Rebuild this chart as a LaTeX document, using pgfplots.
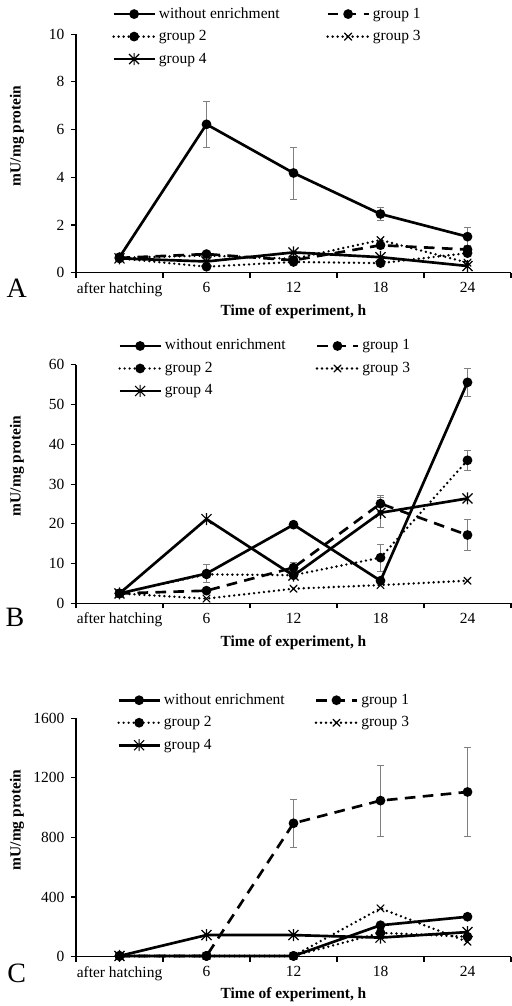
\documentclass[border=0pt]{standalone}
\usepackage{fontspec}
\setmainfont{Liberation Serif}
\usepackage{pgfplots}
\pgfplotsset{compat=1.18}
\newcommand\cf{\fontsize{11.6}{13}\selectfont}

\pgfdeclareplotmark{xstar}{%
  \pgfpathmoveto{\pgfqpoint{-\pgfplotmarksize}{-\pgfplotmarksize}}%
  \pgfpathlineto{\pgfqpoint{\pgfplotmarksize}{\pgfplotmarksize}}%
  \pgfpathmoveto{\pgfqpoint{-\pgfplotmarksize}{\pgfplotmarksize}}%
  \pgfpathlineto{\pgfqpoint{\pgfplotmarksize}{-\pgfplotmarksize}}%
  \pgfpathmoveto{\pgfqpoint{0pt}{-1.2\pgfplotmarksize}}%
  \pgfpathlineto{\pgfqpoint{0pt}{1.2\pgfplotmarksize}}%
  \pgfusepathqstroke}

\pgfplotsset{
  panel/.style={
    scale only axis, width=326.25pt, height=178.9pt,
    anchor=south west,
    xmin=-0.5, xmax=4.5, ymin=0,
    axis x line=bottom, axis y line=left,
    axis line style={-, line width=1pt, black},
    xtick={0,1,2,3,4}, xticklabels={after hatching,6,12,18,24},
    minor xtick={-0.5,0.5,1.5,2.5,3.5,4.5},
    major x tick style={draw=none},
    tick align=outside, major tick length=3.75pt, minor tick length=3.75pt,
    tick style={black, line width=0.9pt},
    every tick label/.append style={font=\cf},
    yticklabel style={xshift=-1.5pt},
    /pgf/number format/assume math mode=true,
    /pgf/number format/1000 sep={},
    scaled y ticks=false,
    clip=false,
    legend columns=2,
    legend cell align=left,
    legend style={draw=none, fill=none, anchor=north west, inner sep=0pt, font=\cf,
      nodes={inner sep=0pt, text height=8.5pt, text depth=2.5pt},
      row sep=5.875pt,
      /tikz/every odd column/.style={column sep=2.25pt}},
    legend image code/.code={\draw[mark repeat=2, mark phase=2] plot coordinates {(0pt,0pt) (15.375pt,0pt) (30.75pt,0pt)};},
    legend entries={without enrichment, group 1, group 2, group 3, group 4},
  },
  we/.style={black, line width=2pt, mark=*, mark size=2.6pt, mark options={solid}},
  g1/.style={black, line width=2pt, dash pattern=on 8pt off 5.5pt, mark=*, mark size=2.6pt, mark options={solid}},
  g2/.style={black, line width=2pt, line cap=round, dash pattern=on 0pt off 3.75pt, mark=*, mark size=2.6pt, mark options={solid}},
  g3/.style={black, line width=2pt, line cap=round, dash pattern=on 0pt off 3.75pt, mark=x, mark size=3.75pt, mark options={solid, line width=0.9pt}},
  g4/.style={black, line width=2pt, mark=xstar, mark size=3.75pt, mark options={solid, line width=0.9pt}},
  eb/.style={forget plot, only marks, mark=none,
    error bars/.cd, y dir=both, y explicit,
    error bar style={draw=gray, line width=0.6pt, solid},
    error mark options={draw=gray, line width=0.6pt, mark size=2.6pt, rotate=90, solid}},
}

\begin{document}
\begin{tikzpicture}
\useasboundingbox (0,0) rectangle (383.25pt,754.5pt);

% ---------------- Panel A ----------------
\begin{axis}[panel, at={(57pt,549.98pt)}, ymax=10, ytick={0,2,4,6,8,10},
  legend style={at={(axis description cs:0.0828,1.116)}, /tikz/every even column/.style={column sep=35pt}}]
\addplot[eb] coordinates {(1,6.22) +- (0,0.96) (2,4.18) +- (0,1.09) (3,2.46) +- (0,0.28) (4,1.51) +- (0,0.37)};
\addplot[we] coordinates {(0,0.65) (1,6.22) (2,4.18) (3,2.46) (4,1.51)};
\addplot[g1] coordinates {(0,0.62) (1,0.78) (2,0.52) (3,1.15) (4,0.97)};
\addplot[g2] coordinates {(0,0.60) (1,0.25) (2,0.45) (3,0.40) (4,0.82)};
\addplot[g3] coordinates {(0,0.62) (1,0.72) (2,0.58) (3,1.37) (4,0.42)};
\addplot[g4] coordinates {(0,0.60) (1,0.47) (2,0.85) (3,0.65) (4,0.28)};
\end{axis}

% ---------------- Panel B ----------------
\begin{axis}[panel, at={(57pt,301.95pt)}, ymax=60, ytick={0,10,20,30,40,50,60},
  legend style={at={(axis description cs:0.0966,1.111)}, /tikz/every even column/.style={column sep=22.5pt}}]
\addplot[eb] coordinates {(1,7.5) +- (0,2.3) (2,19.8) +- (0,0.5) (4,55.6) +- (0,3.6)};
\addplot[eb] coordinates {(2,9.0) +- (0,1.3) (3,25.1) +- (0,2.0) (4,17.2) +- (0,3.9)};
\addplot[eb] coordinates {(3,11.5) +- (0,3.4) (4,36.0) +- (0,2.6)};
\addplot[eb] coordinates {(3,22.8) +- (0,3.8)};
\addplot[we] coordinates {(0,2.5) (1,7.5) (2,19.8) (3,5.7) (4,55.6)};
\addplot[g1] coordinates {(0,2.5) (1,3.2) (2,9.0) (3,25.1) (4,17.2)};
\addplot[g2] coordinates {(0,2.5) (1,7.3) (2,7.1) (3,11.5) (4,36.0)};
\addplot[g3] coordinates {(0,2.5) (1,1.2) (2,3.7) (3,4.6) (4,5.7)};
\addplot[g4] coordinates {(0,2.5) (1,21.2) (2,7.0) (3,22.8) (4,26.4)};
\end{axis}

% ---------------- Panel C ----------------
\begin{axis}[panel, at={(57pt,36.98pt)}, ymax=1600, ytick={0,400,800,1200,1600},
  legend style={at={(axis description cs:0.0943,1.107)}, /tikz/every even column/.style={column sep=22.5pt}}]
\addplot[eb] coordinates {(2,895) +- (0,160) (3,1047) +- (0,237) (4,1105) +- (0,300)};
\addplot[we] coordinates {(0,5) (1,5) (2,5) (3,211) (4,268)};
\addplot[g1] coordinates {(0,5) (1,5) (2,895) (3,1047) (4,1105)};
\addplot[g2] coordinates {(0,5) (1,5) (2,5) (3,160) (4,134)};
\addplot[g3] coordinates {(0,5) (1,5) (2,5) (3,324) (4,100)};
\addplot[g4] coordinates {(0,5) (1,145) (2,145) (3,128) (4,165)};
\end{axis}

% labels
\node[font=\fontsize{21}{24}\selectfont] at (12.5pt,538.5pt) {A};
\node[font=\fontsize{21}{24}\selectfont] at (11.25pt,291.75pt) {B};
\node[font=\fontsize{21}{24}\selectfont] at (12.5pt,24.75pt) {C};
\node[font=\cf\bfseries] at (220.1pt,520.7pt) {Time of experiment, h};
\node[font=\cf\bfseries] at (220.1pt,272.8pt) {Time of experiment, h};
\node[font=\cf\bfseries] at (220.1pt,8.25pt) {Time of experiment, h};
\node[font=\cf\bfseries, rotate=90] at (12.75pt,652.65pt) {mU/mg protein};
\node[font=\cf\bfseries, rotate=90] at (12.75pt,405.15pt) {mU/mg protein};
\node[font=\cf\bfseries, rotate=90] at (12.75pt,139.5pt) {mU/mg protein};
\end{tikzpicture}
\end{document}
